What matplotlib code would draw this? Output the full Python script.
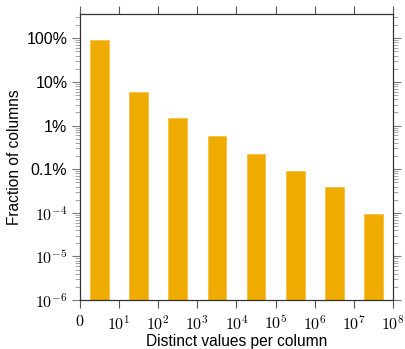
import numpy as np
import matplotlib.pyplot as plt
from matplotlib.ticker import FixedLocator, LogLocator, NullFormatter

plt.rcParams['font.family'] = ['Liberation Sans', 'DejaVu Sans']
plt.rcParams['mathtext.fontset'] = 'cm'

# fraction of columns per bucket of distinct values (0-10, 10-100, ...)
bucket_pos = [0.5, 1.5, 2.5, 3.5, 4.5, 5.5, 6.5, 7.5]
fractions = [0.91, 0.059, 0.015, 0.0058, 0.00225, 0.00092, 0.0004, 0.000091]

x_ticks = [0, 1, 2, 3, 4, 5, 6, 7, 8]
x_labels = ['$0$'] + ['$10^{%d}$' % i for i in range(1, 9)]
y_ticks = [1e-6, 1e-5, 1e-4, 1e-3, 1e-2, 1e-1, 1]
y_labels = ['$10^{-6}$', '$10^{-5}$', '$10^{-4}$', '0.1%', '1%', '10%', '100%']

bar_color = '#F0AB00'
spine_color = '#333333'

fig = plt.figure(figsize=(4.06, 3.49), dpi=100)
ax = fig.add_axes([0.197, 0.140, 0.771, 0.820])

ax.bar(bucket_pos, fractions, width=0.48, bottom=1e-6,
       color=bar_color, edgecolor='#F5C040', linewidth=0.6)

ax.set_yscale('log')
ax.set_ylim(1e-6, 3.6)
ax.set_xlim(0, 8)

ax.set_xticks(x_ticks)
ax.set_xticklabels(x_labels, fontsize=11.5)
ax.yaxis.set_major_locator(FixedLocator(y_ticks))
ax.set_yticklabels(y_labels, fontsize=11.5)
ax.yaxis.set_minor_locator(LogLocator(base=10, subs=np.arange(2, 10), numticks=20))
ax.yaxis.set_minor_formatter(NullFormatter())

ax.tick_params(axis='x', which='major', direction='out', top=True, bottom=True,
               length=6, width=0.8, color='#555555', pad=4)
ax.tick_params(axis='y', which='major', direction='out', left=True, right=True,
               length=6, width=0.8, color='#777777', pad=3)
ax.tick_params(axis='y', which='minor', direction='out', left=True, right=True,
               length=3.5, width=0.6, color='#999999')

for sp in ax.spines.values():
    sp.set_color(spine_color)
    sp.set_linewidth(0.9)

ax.set_xlabel('Distinct values per column', fontsize=11.2, labelpad=1)
ax.set_ylabel('Fraction of columns', fontsize=11.2, labelpad=3)

fig.savefig('out.png', dpi=100)
